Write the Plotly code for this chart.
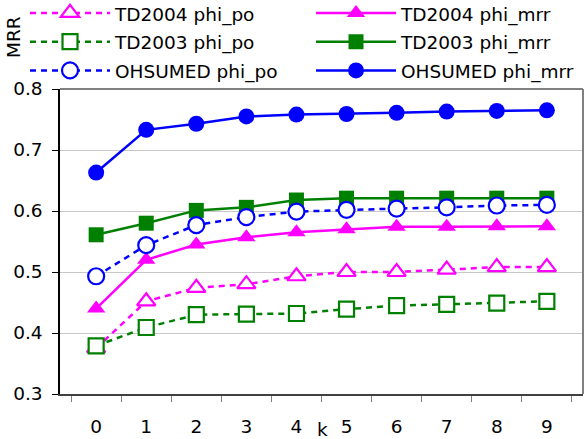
import plotly.graph_objects as go

k_labels = ["0", "1", "2", "3", "4", "5", "6", "7", "8", "9"]

td2004_po = [0.375, 0.452, 0.474, 0.480, 0.493, 0.500, 0.500, 0.504, 0.508, 0.508]
td2004_mrr = [0.440, 0.520, 0.545, 0.557, 0.565, 0.570, 0.574, 0.574, 0.575, 0.575]
td2003_po = [0.379, 0.409, 0.430, 0.431, 0.432, 0.439, 0.445, 0.447, 0.449, 0.452]
td2003_mrr = [0.561, 0.580, 0.601, 0.606, 0.618, 0.621, 0.621, 0.621, 0.621, 0.621]
ohsumed_po = [0.493, 0.544, 0.577, 0.590, 0.599, 0.602, 0.604, 0.606, 0.609, 0.610]
ohsumed_mrr = [0.663, 0.733, 0.743, 0.755, 0.758, 0.759, 0.761, 0.763, 0.764, 0.765]

MAGENTA = "#FF00FF"
GREEN = "#008000"
BLUE = "#0000FF"
DASH = "6px,5px"
FONT = "DejaVu Sans, Liberation Sans, Arial, sans-serif"

series = [
    ("TD2004 phi_po", td2004_po, MAGENTA, "triangle-up", True),
    ("TD2004 phi_mrr", td2004_mrr, MAGENTA, "triangle-up", False),
    ("TD2003 phi_po", td2003_po, GREEN, "square", True),
    ("TD2003 phi_mrr", td2003_mrr, GREEN, "square", False),
    ("OHSUMED phi_po", ohsumed_po, BLUE, "circle", True),
    ("OHSUMED phi_mrr", ohsumed_mrr, BLUE, "circle", False),
]

fig = go.Figure()
for name, vals, col, sym, is_open in series:
    size = {"triangle-up": 16, "square": 15, "circle": 16}[sym]
    fig.add_trace(go.Scatter(
        x=k_labels, y=vals,
        name='<span style="font-size:18.5px">' + name + '</span>',
        mode="lines+markers",
        line=dict(color=col, width=2.5, dash=DASH if is_open else "solid"),
        marker=dict(symbol=sym, size=size,
                    color="white" if is_open else col,
                    line=dict(color=col, width=2.2 if is_open else 0)),
    ))

fig.update_layout(
    width=587, height=439,
    margin=dict(l=60, r=4, t=89, b=45, autoexpand=False),
    paper_bgcolor="white", plot_bgcolor="white",
    font=dict(family=FONT, size=18.5, color="black"),
    showlegend=True,
    legend=dict(
        orientation="h", x=-0.0669, xref="paper", xanchor="left",
        y=1.313, yref="paper", yanchor="top",
        entrywidth=191, entrywidthmode="pixels",
        itemwidth=80,
        font=dict(size=19.8), bgcolor="rgba(0,0,0,0)",
        traceorder="normal",
    ),
    xaxis=dict(
        type="category", tickson="boundaries", ticks="outside", ticklen=6,
        tickcolor="#808080", showline=True, linecolor="#404040", linewidth=1.5,
        mirror=False, showgrid=False, ticklabelstandoff=15,
        tickfont=dict(size=18.5),
    ),
    yaxis=dict(
        range=[0.3, 0.8], dtick=0.1, tickformat=".1f",
        ticks="outside", ticklen=6, tickcolor="#000000",
        showline=True, linecolor="#000000", linewidth=1.5,
        showgrid=True, gridcolor="#C8C8C8", gridwidth=1,
        zeroline=False, tickfont=dict(size=18.5), ticklabelstandoff=6,
    ),
    shapes=[
        dict(type="line", xref="paper", yref="paper", x0=0, x1=1, y0=1, y1=1,
             line=dict(color="#808080", width=2)),
        dict(type="line", xref="paper", yref="paper", x0=1, x1=1, y0=0, y1=1,
             line=dict(color="#808080", width=2)),
    ],
    annotations=[
        dict(text="k", xref="paper", yref="paper", x=0.501, y=-0.1148,
             xanchor="center", yanchor="middle", showarrow=False,
             font=dict(size=18.5)),
        dict(text="MRR", xref="paper", yref="paper", x=-0.09, y=1.17,
             xanchor="center", yanchor="middle", showarrow=False,
             textangle=-90, font=dict(size=18.5)),
    ],
)

fig.write_html("out.html", config={"displayModeBar": False},
               post_script="document.body.style.margin='0';")
